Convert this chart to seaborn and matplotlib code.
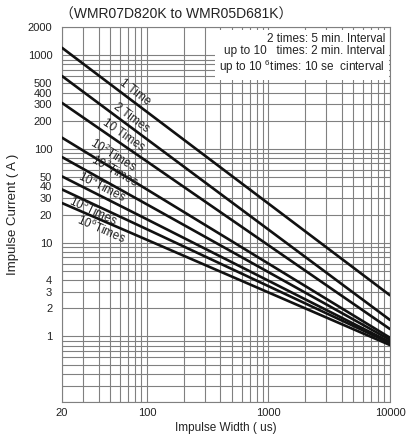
import numpy as np
import pandas as pd
import matplotlib
matplotlib.use("Agg")
import matplotlib.pyplot as plt
from matplotlib.ticker import FixedLocator, LogLocator, NullFormatter, FixedFormatter
import seaborn as sns

# data: each series is a straight line on log-log axes
impulse_width = [20, 10000]
series = ["1", "2", "10", "1e2", "1e3", "1e4", "1e5", "1e6"]
current_start = [1200, 600, 310, 132, 82, 51, 37, 26.5]
current_end = [2.75, 1.5, 1.2, 0.97, 0.92, 0.87, 0.85, 0.81]

labels = ["1 Time", "2 Times", "10 Times", "$10^2$Times", "$10^3$Times",
          "$10^4$Times", "$10^5$Times", "$10^6$Times"]
label_x = [79, 75, 64, 53, 54, 43, 36, 42]
label_y = [405, 215, 142, 86, 58, 40, 22, 14]

ytick_vals = [1, 2, 3, 4, 10, 20, 30, 40, 50, 100, 200, 300, 400, 500, 1000, 2000]
xtick_vals = [20, 100, 1000, 10000]

rows = []
for name, a, b in zip(series, current_start, current_end):
    rows.append({"series": name, "width": impulse_width[0], "current": a})
    rows.append({"series": name, "width": impulse_width[1], "current": b})
df = pd.DataFrame(rows)

sns.set_theme(style="white")
plt.rcParams["font.family"] = ["Liberation Sans", "Noto Sans CJK SC", "DejaVu Sans"]
plt.rcParams["mathtext.fontset"] = "custom"
plt.rcParams["mathtext.rm"] = "Liberation Sans"
plt.rcParams["mathtext.it"] = "Liberation Sans"

fig = plt.figure(figsize=(4.09, 4.34), dpi=100)
ax = fig.add_axes([0.1516, 0.0737, 0.8019, 0.8641])

sns.lineplot(data=df, x="width", y="current", hue="series", hue_order=series,
             palette=["#111111"] * len(series), linewidth=1.9, legend=False, ax=ax, zorder=3)

ax.set_xscale("log")
ax.set_yscale("log")
ax.set_xlim(20, 10000)
ax.set_ylim(0.2, 2000)

ax.xaxis.set_major_locator(FixedLocator(xtick_vals))
ax.xaxis.set_major_formatter(FixedFormatter([str(v) for v in xtick_vals]))
ax.xaxis.set_minor_locator(LogLocator(base=10, subs=np.arange(1, 10), numticks=20))
ax.xaxis.set_minor_formatter(NullFormatter())
ax.yaxis.set_major_locator(FixedLocator(ytick_vals))
ax.yaxis.set_major_formatter(FixedFormatter([str(v) for v in ytick_vals]))
ax.yaxis.set_minor_locator(LogLocator(base=10, subs=np.arange(1, 10), numticks=20))
ax.yaxis.set_minor_formatter(NullFormatter())

ax.grid(True, which="both", color="#808080", linewidth=0.8)
ax.tick_params(which="both", length=0, labelsize=8, colors="#222222")
ax.tick_params(axis="y", pad=7)
ax.tick_params(axis="x", pad=4)
for s in ax.spines.values():
    s.set_color("#808080")
    s.set_linewidth(0.8)

ax.set_xlabel("Impulse Width ( us)", fontsize=8.5, color="#222222", labelpad=3)
ax.set_ylabel("Impulse Current ( A )", fontsize=9.5, color="#222222", labelpad=6)

fig.text(0.43, 0.966, "（WMR07D820K to WMR05D681K）", fontsize=10,
         ha="center", va="center", color="#222222")

ax.text(0.985, 0.985,
        "2 times: 5 min. Interval\nup to 10   times: 2 min. Interval\nup to 10 $^6$times: 10 se  cinterval",
        transform=ax.transAxes, ha="right", va="top", fontsize=8.5, color="#222222",
        linespacing=1.05, multialignment="right", zorder=4,
        bbox=dict(facecolor="white", edgecolor="none", pad=3))

# rotate each label to follow its line
for a, b, txt, lx, ly in zip(current_start, current_end, labels, label_x, label_y):
    p0 = ax.transData.transform((impulse_width[0], a))
    p1 = ax.transData.transform((impulse_width[1], b))
    ang = np.degrees(np.arctan2(p1[1] - p0[1], p1[0] - p0[0]))
    ax.text(lx, ly, txt, rotation=ang, rotation_mode="anchor", ha="center", va="center",
            fontsize=8.5, color="#222222", zorder=5)

fig.savefig("out.png", dpi=100)
